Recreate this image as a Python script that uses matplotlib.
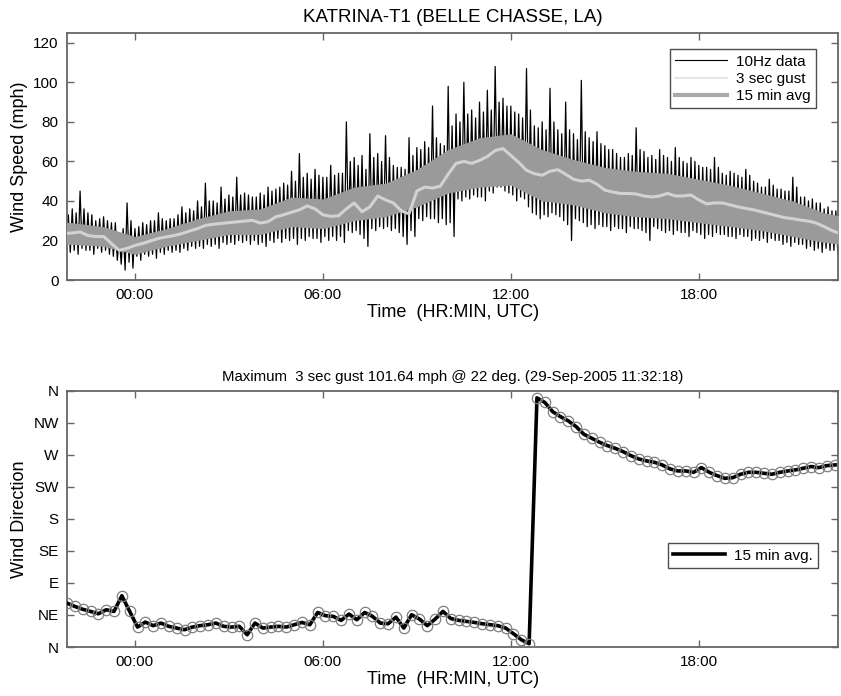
import matplotlib
matplotlib.use('Agg')
import matplotlib.pyplot as plt
import numpy as np
from matplotlib.lines import Line2D

plt.rcParams['font.family'] = ['Liberation Sans', 'DejaVu Sans']

# ---- datos: velocidad (mph), rejilla de 15 min desde las 21:45 (-2.25 h) ----
speed_t0 = -2.25
avg15 = [23.5, 23.8, 24.3, 22.5, 22.0, 22.0, 18.5, 15.0, 16.0, 17.5,
         18.5, 19.8, 21.0, 21.8, 22.5, 23.5, 24.8, 26.0, 27.6, 28.2,
         28.6, 29.0, 29.4, 29.8, 30.2, 28.8, 29.5, 32.0, 33.0, 34.3,
         35.5, 37.5, 36.0, 33.0, 32.2, 32.5, 36.0, 39.0, 34.5, 37.0,
         42.5, 40.5, 39.0, 35.0, 33.5, 45.0, 47.0, 46.5, 47.5, 53.5,
         59.0, 60.0, 59.0, 60.5, 62.5, 65.5, 66.5, 63.0, 59.5, 55.5,
         53.8, 53.0, 55.0, 55.8, 53.5, 51.0, 50.0, 50.5, 48.5, 45.5,
         44.5, 43.8, 43.8, 43.5, 42.5, 42.0, 42.5, 43.8, 42.5, 42.5,
         43.0, 40.5, 38.5, 39.0, 39.0, 38.0, 37.0, 36.2, 35.5, 34.5,
         33.5, 32.5, 31.5, 31.0, 30.3, 29.8, 28.8, 27.0, 25.0, 23.5]

# picos de los datos 10Hz en cada intervalo
hz_max = [38, 36, 45, 34, 30, 32, 29, 22, 39, 26,
          29, 30, 34, 30, 31, 37, 36, 40, 49, 40,
          47, 43, 52, 44, 42, 44, 47, 46, 49, 55,
          64, 54, 56, 52, 58, 54, 80, 62, 63, 74,
          64, 73, 58, 57, 72, 67, 70, 88, 69, 98,
          84, 100, 86, 90, 96, 108, 92, 88, 84, 107,
          78, 80, 97, 76, 90, 74, 101, 72, 75, 68,
          66, 62, 64, 77, 65, 63, 66, 62, 67, 60,
          62, 58, 57, 62, 54, 55, 53, 56, 50, 47,
          51, 46, 45, 52, 42, 40, 39, 36, 35, 33]

hz_min = [14, 13, 15, 13, 14, 13, 10, 5, 6, 10,
          12, 11, 13, 14, 14, 15, 16, 16, 17, 16,
          18, 18, 19, 18, 18, 17, 19, 19, 20, 18,
          20, 21, 19, 20, 20, 19, 24, 23, 17, 25,
          26, 25, 24, 18, 22, 30, 31, 29, 28, 22,
          40, 41, 42, 40, 44, 47, 44, 40, 41, 34,
          31, 32, 33, 30, 20, 30, 27, 26, 27, 25,
          26, 24, 26, 25, 20, 26, 24, 23, 24, 22,
          24, 21, 22, 23, 22, 21, 22, 20, 20, 19,
          20, 18, 17, 18, 16, 15, 14, 15, 13, 14]

# valores tipicos (no extremos) de los datos 10Hz
hz_top = [33, 34, 36, 33, 31, 30, 29, 26, 30, 27,
          28, 30, 31, 31, 33, 34, 35, 37, 40, 39,
          41, 42, 43, 43, 42, 43, 45, 47, 48, 50,
          52, 51, 53, 52, 53, 54, 60, 58, 56, 62,
          60, 62, 57, 56, 63, 66, 67, 72, 68, 78,
          80, 84, 82, 85, 86, 90, 88, 85, 82, 86,
          77, 76, 80, 74, 76, 71, 75, 70, 69, 66,
          64, 62, 63, 66, 62, 61, 63, 60, 62, 59,
          60, 57, 56, 57, 53, 54, 52, 53, 49, 47,
          48, 46, 45, 47, 42, 41, 39, 37, 35, 33]

hz_bot = [16, 15, 16, 15, 16, 15, 12, 8, 9, 12,
          13, 13, 14, 15, 15, 16, 17, 17, 18, 18,
          19, 19, 20, 20, 20, 19, 20, 21, 21, 21,
          21, 22, 21, 22, 22, 22, 25, 25, 21, 26,
          27, 27, 26, 22, 25, 31, 32, 31, 31, 29,
          41, 42, 43, 42, 45, 47, 45, 43, 42, 37,
          33, 33, 34, 32, 28, 31, 29, 28, 28, 27,
          27, 26, 27, 26, 24, 27, 25, 25, 25, 24,
          25, 23, 23, 24, 23, 22, 23, 22, 21, 21,
          21, 20, 19, 19, 18, 17, 16, 16, 15, 15]

# rafaga 3 s, envolvente horaria desde -3 h
gust_t0 = -3.0
gust_hi = [30, 29, 27, 22, 26, 31, 35, 36, 42, 41, 47, 49, 56, 66,
           72, 74, 66, 61, 57, 55, 54, 51, 48, 44, 40, 34, 31]
gust_lo = [18, 18, 17, 13, 17, 20, 23, 23, 27, 26, 30, 32, 37, 44,
           47, 48, 40, 38, 34, 32, 31, 29, 27, 25, 22, 19, 17]

# ---- datos: direccion (grados), cada 15 min desde las 21:50 ----
dir_t0 = -13.0 / 6.0
dir15 = [61.6, 57, 53, 50, 46.7, 52.3, 50, 72, 50, 28,
         35, 30, 33.6, 29, 26.6, 24.3, 28, 30, 31.3, 33.6,
         29, 28, 29, 17.2, 33.6, 26.6, 28, 29, 28, 31.3,
         34.5, 31.3, 48.5, 44, 43, 37.4, 46.3, 38.3, 48.5, 43,
         33.6, 32.7, 42, 26.6, 45.3, 39.2, 30, 39.2, 50, 40,
         37.4, 36, 34.5, 32.7, 31.3, 30, 26.6, 18.7, 10.2, 4.6,
         350, 343.6, 330.7, 323.6, 317.6, 309.6, 298.8, 293.2, 287.6, 282.9,
         279.1, 274.4, 268.8, 264.2, 261.4, 259.5, 255.7, 250.1, 247.3, 247.3,
         245.4, 252, 245.4, 240.7, 237, 237.9, 242.7, 245.4, 245.4, 244,
         242.7, 245.4, 247.3, 248.8, 251.1, 253.5, 252, 254.8, 255.7, 256.6]

hour_ticks = [0, 6, 12, 18]
hour_labels = ['00:00', '06:00', '12:00', '18:00']
dir_ticks = [0, 45, 90, 135, 180, 225, 270, 315, 360]
dir_labels = ['N', 'NE', 'E', 'SE', 'S', 'SW', 'W', 'NW', 'N']

xmin, xmax = -13.0 / 6.0, 22.45


def estilo(ax):
    ax.set_xlim(xmin, xmax)
    ax.set_xticks(hour_ticks)
    ax.set_xticklabels(hour_labels)
    ax.tick_params(direction='in', top=True, right=True, length=5,
                   width=1, color='0.4', labelsize=11, pad=6)
    for sp in ax.spines.values():
        sp.set_color('0.4')
        sp.set_linewidth(1.3)


fig = plt.figure(figsize=(8.41, 6.96), dpi=100)

# ---- grafica superior ----
ax1 = fig.add_axes([0.0797, 0.5977, 0.917, 0.355])
t_sp = speed_t0 + 0.25 * np.arange(len(hz_max))
n = len(t_sp)
t_zz = np.empty(4 * n)
v_zz = np.empty(4 * n)
t_zz[0::4] = t_sp
t_zz[1::4] = t_sp + 0.0625
t_zz[2::4] = t_sp + 0.125
t_zz[3::4] = t_sp + 0.1875
v_zz[0::4] = hz_max
v_zz[1::4] = hz_bot
v_zz[2::4] = hz_top
v_zz[3::4] = hz_min
ax1.plot(t_zz, v_zz, color='black', lw=0.9, zorder=2)
t_g = gust_t0 + np.arange(len(gust_hi))
ax1.fill_between(t_g, gust_lo, gust_hi, color='#9a9a9a', lw=0, zorder=3)
t_avg = speed_t0 + 0.25 * np.arange(len(avg15))
ax1.plot(t_avg, avg15, color='#d2d2d2', lw=2.2, zorder=4)
ax1.set_ylim(0, 125)
ax1.set_yticks([0, 20, 40, 60, 80, 100, 120])
estilo(ax1)
ax1.set_ylabel('Wind Speed (mph)', fontsize=13)
ax1.set_xlabel('Time  (HR:MIN, UTC)', fontsize=13, labelpad=1)
ax1.set_title('KATRINA-T1 (BELLE CHASSE, LA)', fontsize=13.5, pad=8)
handles = [Line2D([], [], color='black', lw=0.8),
           Line2D([], [], color='#e6e6e6', lw=1.5),
           Line2D([], [], color='#aaaaaa', lw=3)]
leg = ax1.legend(handles, ['10Hz data', '3 sec gust', '15 min avg'],
                 loc='upper right', fontsize=11, fancybox=False,
                 framealpha=1, edgecolor='0.3', handlelength=3.4,
                 borderpad=0.35, labelspacing=0.2, handletextpad=0.6,
                 bbox_to_anchor=(0.981, 0.964))
leg.get_frame().set_linewidth(1.0)

# ---- grafica inferior ----
ax2 = fig.add_axes([0.0797, 0.0704, 0.917, 0.3682])
t_dir = dir_t0 + 0.25 * np.arange(len(dir15))
ax2.plot(t_dir, dir15, color='black', lw=2.6, label='15 min avg.', zorder=3)
ax2.plot(t_dir, dir15, ls='none', marker='o', ms=7.5, mfc='none',
         mec='0.5', mew=0.9, zorder=4)
ax2.set_ylim(0, 360)
ax2.set_yticks(dir_ticks)
ax2.set_yticklabels(dir_labels)
estilo(ax2)
ax2.set_ylabel('Wind Direction', fontsize=13)
ax2.set_xlabel('Time  (HR:MIN, UTC)', fontsize=13, labelpad=1)
ax2.set_title('Maximum  3 sec gust 101.64 mph @ 22 deg. (29-Sep-2005 11:32:18)',
              fontsize=10.8, pad=7)
leg2 = ax2.legend(loc='center right', fontsize=11, fancybox=False,
                  framealpha=1, edgecolor='0.3', handlelength=3.4,
                  borderpad=0.35, handletextpad=0.6,
                  bbox_to_anchor=(0.984, 0.356))
leg2.get_frame().set_linewidth(1.0)

fig.savefig('out.png', dpi=100)
